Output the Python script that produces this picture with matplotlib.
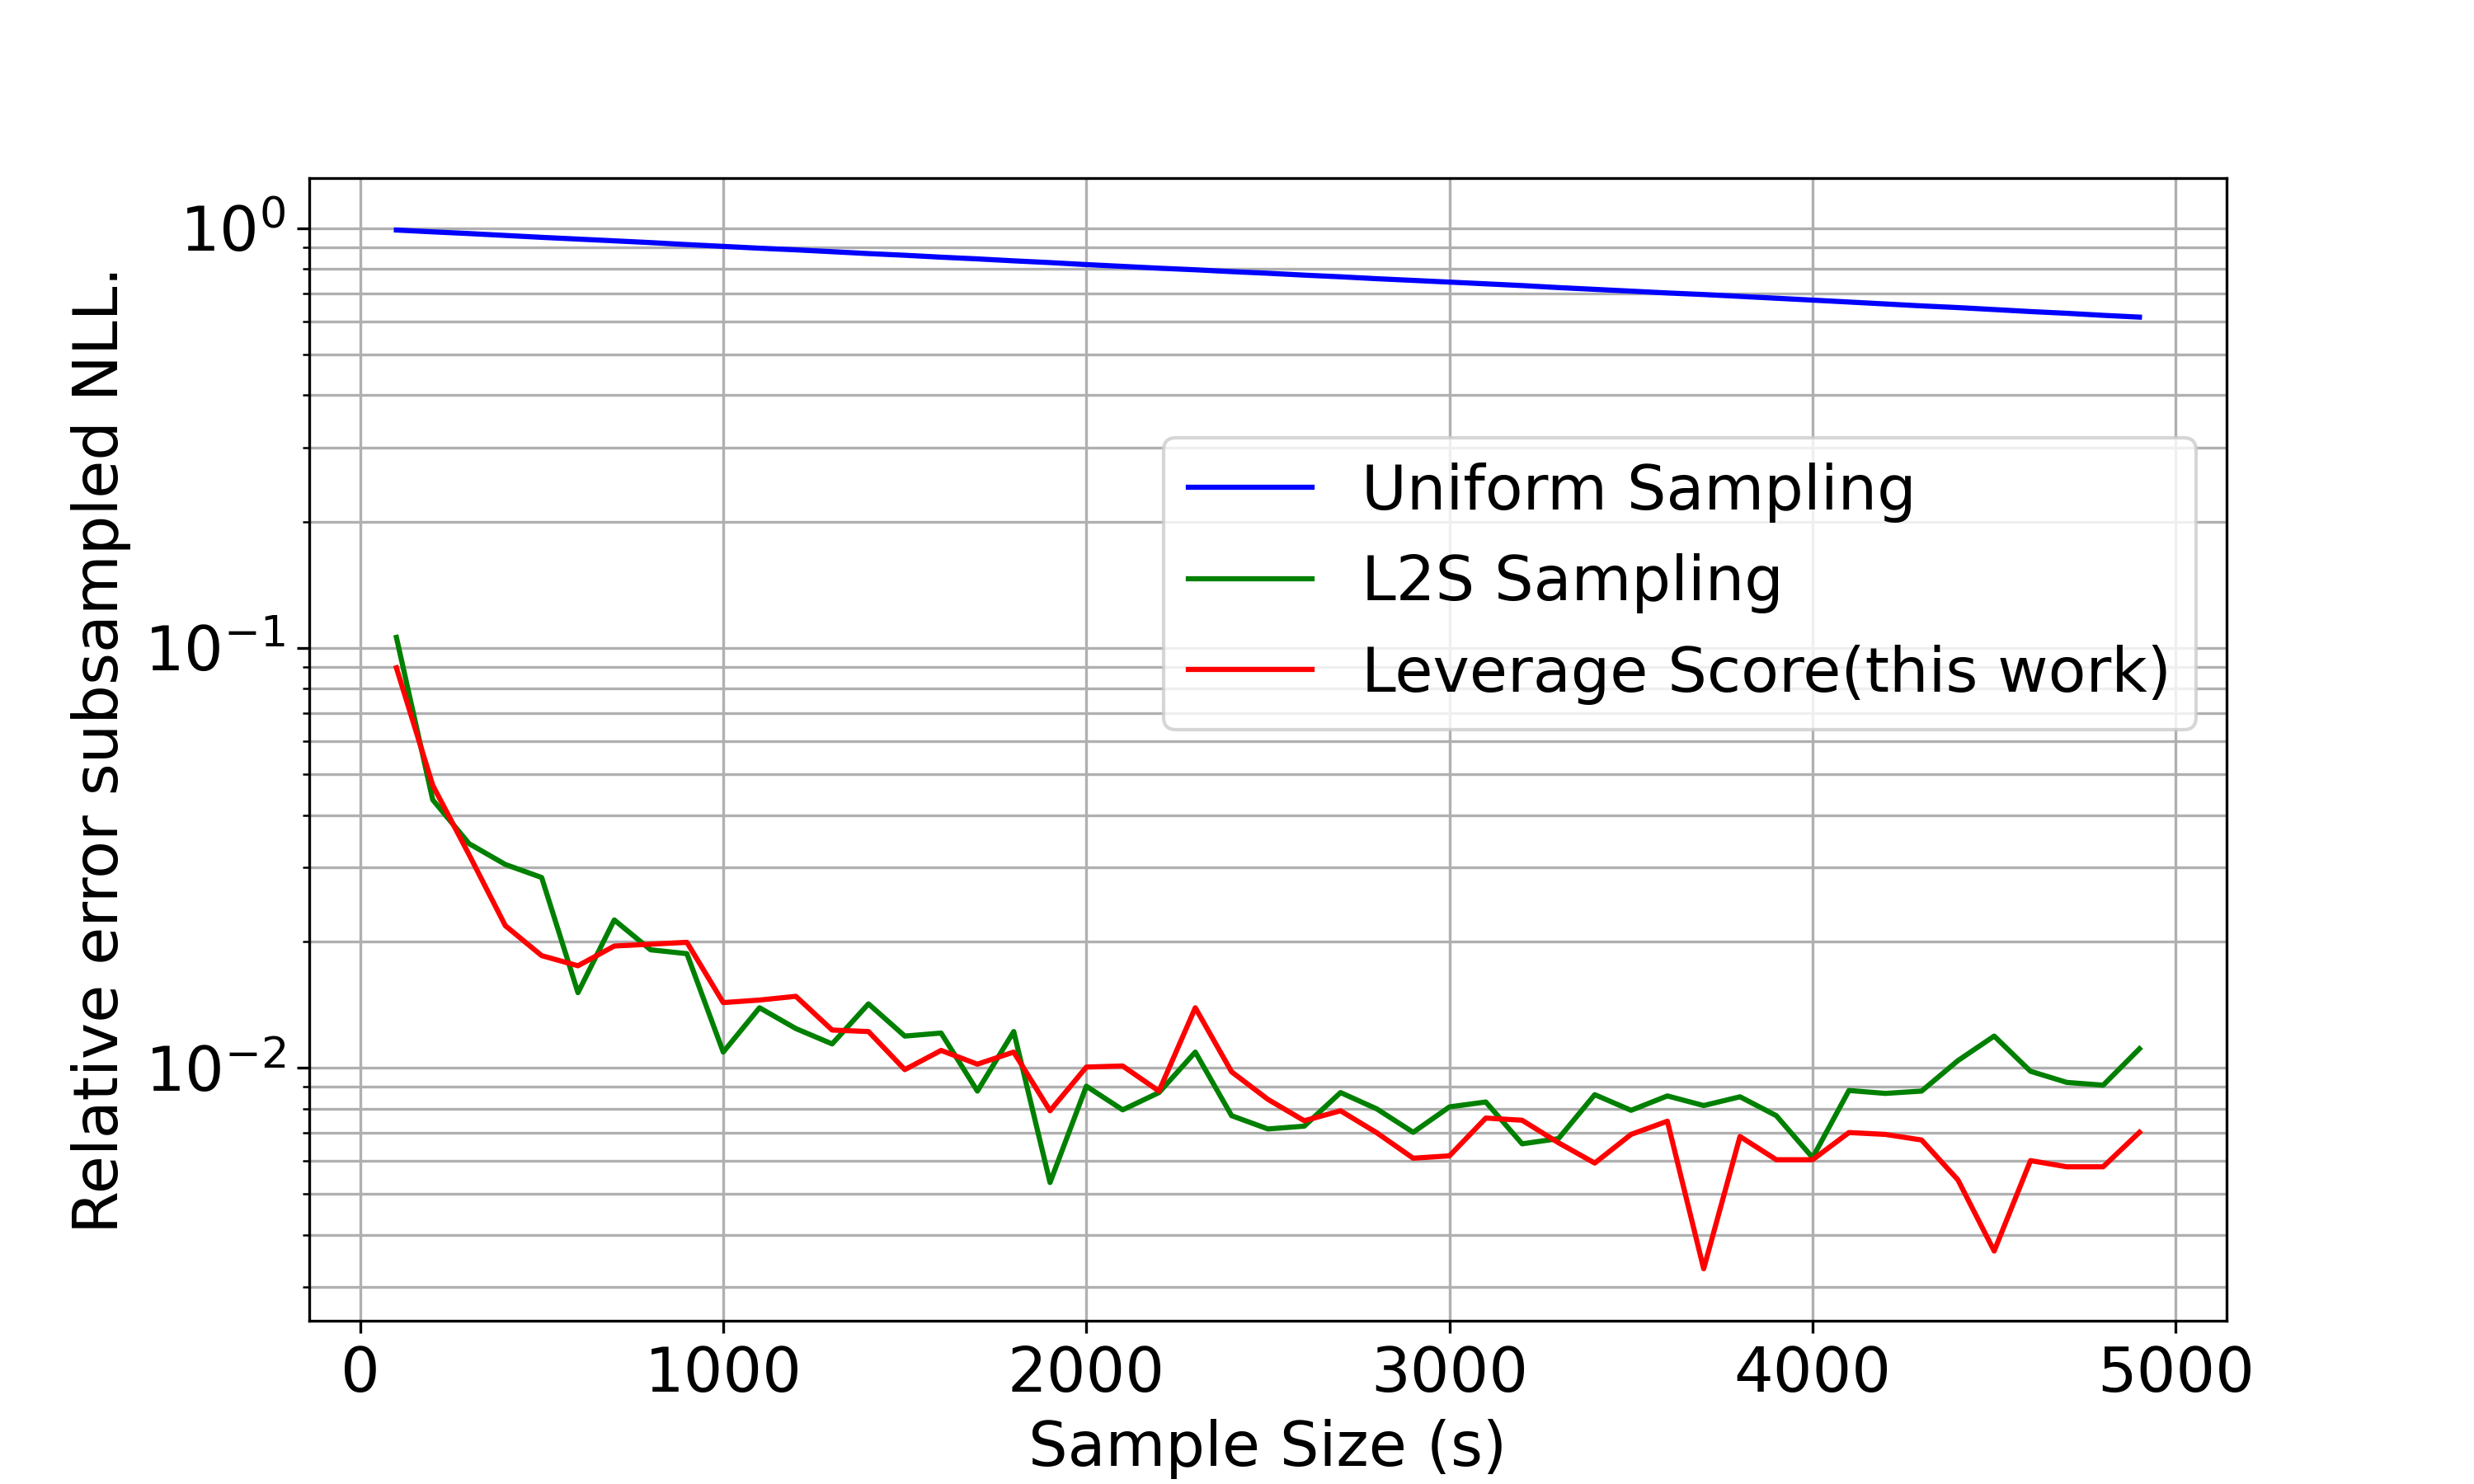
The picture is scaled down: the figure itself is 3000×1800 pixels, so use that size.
"""Relative error of the subsampled NLL against sample size, for three samplers."""
import matplotlib
matplotlib.use("Agg")
import matplotlib.pyplot as plt

plt.rcParams.update({"font.size": 18})

sample_sizes = list(range(100, 5000, 100))

uniform_err = [
    0.990, 0.980, 0.971, 0.961, 0.951, 0.942, 0.933, 0.924, 0.914, 0.905,
    0.896, 0.888, 0.879, 0.870, 0.862, 0.853, 0.845, 0.836, 0.828, 0.819,
    0.811, 0.803, 0.796, 0.788, 0.781, 0.773, 0.766, 0.758, 0.751, 0.744,
    0.737, 0.730, 0.722, 0.715, 0.708, 0.701, 0.695, 0.688, 0.681, 0.674,
    0.667, 0.660, 0.653, 0.647, 0.640, 0.633, 0.627, 0.620, 0.614,
]

l2s_err = [
    0.106, 0.0435, 0.0342, 0.0305, 0.0284, 0.0151, 0.0225, 0.0191, 0.0187, 0.0109,
    0.0139, 0.0124, 0.0114, 0.0142, 0.0119, 0.0121, 0.0088, 0.0122, 0.00533, 0.00904,
    0.00794, 0.00873, 0.0109, 0.00769, 0.00715, 0.00726, 0.00873, 0.00798, 0.00702, 0.00807,
    0.00829, 0.00659, 0.00678, 0.00863, 0.00792, 0.00857, 0.00813, 0.00853, 0.00769, 0.00611,
    0.00883, 0.00869, 0.00880, 0.0104, 0.0119, 0.00981, 0.00923, 0.00909, 0.0111,
]

leverage_err = [
    0.0897, 0.0471, 0.0322, 0.0218, 0.0185, 0.0175, 0.0195, 0.0197, 0.0199, 0.0143,
    0.0145, 0.0148, 0.0123, 0.0122, 0.0099, 0.0110, 0.0102, 0.0109, 0.00790, 0.01004,
    0.0101, 0.00880, 0.0139, 0.00978, 0.00841, 0.00748, 0.00790, 0.00700, 0.00609, 0.00617,
    0.00759, 0.00750, 0.00663, 0.00593, 0.00694, 0.00746, 0.00332, 0.00686, 0.00604, 0.00604,
    0.00701, 0.00694, 0.00673, 0.00541, 0.00366, 0.00601, 0.00581, 0.00581, 0.00702,
]

fig, ax = plt.subplots(figsize=(10, 6), dpi=300)
ax.plot(sample_sizes, uniform_err, color="blue", label="Uniform Sampling")
ax.plot(sample_sizes, l2s_err, color="green", label="L2S Sampling")
ax.plot(sample_sizes, leverage_err, color="red", label="Leverage Score(this work)")

ax.set_yscale("log")
ax.set_xticks([0, 1000, 2000, 3000, 4000, 5000])
ax.set_xlabel("Sample Size (s)")
ax.set_ylabel("Relative error subsampled NLL.")
ax.grid(True, which="both")
ax.legend(loc="upper right", bbox_to_anchor=(0.984, 0.773), borderaxespad=0)

fig.savefig("out.png", dpi=300)
